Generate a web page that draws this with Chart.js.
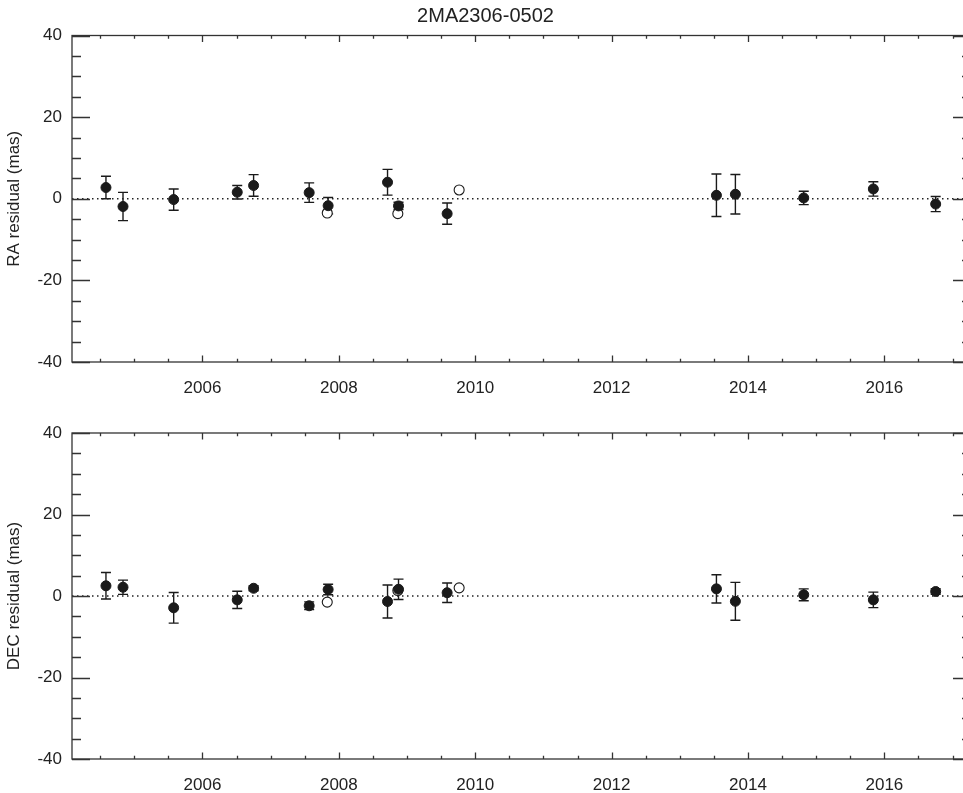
<!DOCTYPE html>
<html><head><meta charset="utf-8">
<script src="https://cdn.jsdelivr.net/npm/chart.js@4"></script>
<style>
html,body{margin:0;padding:0;background:#fff;overflow:hidden;width:963px;height:793px;}
#w1{position:absolute;left:0;top:0;width:1000px;height:410px;}
#w2{position:absolute;left:0;top:410px;width:1000px;height:383px;}
</style></head><body>
<div id="w1"><canvas id="c1"></canvas></div>
<div id="w2"><canvas id="c2"></canvas></div>
<script>
// ---- data ----
const chartTitle = '2MA2306-0502';
const epochs     = [2004.585, 2004.835, 2005.578, 2006.51, 2006.75, 2007.565, 2007.843, 2008.714, 2008.875, 2009.588, 2013.537, 2013.815, 2014.817, 2015.838, 2016.752];
const raValues   = [2.75, -1.9, -0.2, 1.6, 3.25, 1.5, -1.7, 4.05, -1.75, -3.65, 0.85, 1.1, 0.2, 2.4, -1.3];
const raErrors   = [2.75, 3.45, 2.6, 1.65, 2.65, 2.4, 2.0, 3.15, 0.9, 2.6, 5.2, 4.85, 1.65, 1.75, 1.85];
const decValues  = [2.5, 2.15, -2.9, -0.95, 1.9, -2.4, 1.6, -1.35, 1.65, 0.8, 1.75, -1.3, 0.3, -0.95, 1.1];
const decErrors  = [3.25, 1.75, 3.75, 2.1, 0.6, 0.95, 1.3, 4.05, 2.5, 2.4, 3.45, 4.65, 1.45, 1.9, 0.7];
const openEpochs = [2007.83, 2008.865, 2009.764];
const raOpen     = [-3.5, -3.65, 2.15];
const decOpen    = [-1.5, 1.35, 2.0];
const yearTicks  = [2006, 2008, 2010, 2012, 2014, 2016];
const residualTicks = [-40, -20, 0, 20, 40];

// ---- layout / style ----
const XMIN = 2004.087, XMAX = 2017.27;
const FAMILY = '"Liberation Sans", Arial, sans-serif';
const FSIZE = 17;
const TXT = '#222';

const errorBars = {
  id:'errorBars',
  beforeDatasetsDraw(chart){
    const ds = chart.data.datasets[0];
    const {ctx, scales:{x,y}} = chart;
    ctx.save(); ctx.strokeStyle='#1a1a1a'; ctx.lineWidth=1.4; ctx.beginPath();
    ds.data.forEach((p,i)=>{
      const e = ds.errors[i];
      const px = x.getPixelForValue(p.x);
      const y1 = y.getPixelForValue(p.y+e), y2 = y.getPixelForValue(p.y-e);
      ctx.moveTo(px,y1); ctx.lineTo(px,y2);
      ctx.moveTo(px-5,y1); ctx.lineTo(px+5,y1);
      ctx.moveTo(px-5,y2); ctx.lineTo(px+5,y2);
    });
    ctx.stroke(); ctx.restore();
  }
};
const frame = {
  id:'frame',
  afterDraw(chart){
    const {ctx, chartArea:a, scales:{x,y}} = chart;
    ctx.save(); ctx.strokeStyle='#333'; ctx.lineWidth=1.3;
    ctx.strokeRect(a.left,a.top,a.right-a.left,a.bottom-a.top);
    ctx.beginPath();
    for(let v=Math.ceil(XMIN*2)/2; v<=XMAX; v+=0.5){
      const px=Math.round(x.getPixelForValue(v))+0.5;
      const L=(Math.abs(v%2)<1e-6)?6.5:3.3;
      ctx.moveTo(px,a.bottom); ctx.lineTo(px,a.bottom-L);
      ctx.moveTo(px,a.top); ctx.lineTo(px,a.top+L);
    }
    for(let v=-40; v<=40; v+=5){
      const py=Math.round(y.getPixelForValue(v))+0.5;
      const L=(v%20===0)?18:9;
      ctx.moveTo(a.left,py); ctx.lineTo(a.left+L,py);
      ctx.moveTo(a.right,py); ctx.lineTo(a.right-L,py);
    }
    ctx.stroke(); ctx.restore();
  }
};

function makeChart(id, values, errors, openVals, yTitle, showTitle, padTop, xHeight){
  const font = {family:FAMILY, size:FSIZE};
  return new Chart(document.getElementById(id), {
    type:'scatter',
    data:{datasets:[
      {data:epochs.map((x,i)=>({x, y:values[i]})), errors, pointRadius:5, pointBackgroundColor:'#1a1a1a', pointBorderColor:'#1a1a1a', pointBorderWidth:1, order:0},
      {data:openEpochs.map((x,i)=>({x, y:openVals[i]})), pointRadius:5, pointBackgroundColor:'#fff', pointBorderColor:'#1a1a1a', pointBorderWidth:1.1, order:1},
      {data:[{x:XMIN,y:0},{x:XMAX,y:0}], showLine:true, pointRadius:0, borderColor:'#222', borderWidth:1.3, borderDash:[1.5,3.5], order:2}
    ]},
    options:{
      responsive:true, maintainAspectRatio:false, animation:false, events:[],
      layout:{padding:{top:padTop, left:0, right:29, bottom:0}},
      plugins:{
        legend:{display:false}, tooltip:{enabled:false},
        title:{display:showTitle, text:chartTitle, font:{family:FAMILY, size:20, weight:'normal'}, color:TXT, padding:{top:4, bottom:7.5}}
      },
      scales:{
        x:{type:'linear', min:XMIN, max:XMAX,
           grid:{display:false, drawTicks:false}, border:{display:false},
           ticks:{font, color:TXT, padding:16, maxRotation:0, autoSkip:false, callback:v=>String(v)},
           afterBuildTicks:s=>{s.ticks=yearTicks.map(v=>({value:v}));},
           afterFit:s=>{s.height=xHeight;}},
        y:{type:'linear', min:-40, max:40,
           grid:{display:false, drawTicks:false}, border:{display:false},
           ticks:{font, color:TXT, padding:10, callback:v=>String(v)},
           afterBuildTicks:s=>{s.ticks=residualTicks.map(v=>({value:v}));},
           title:{display:true, text:yTitle, font, color:TXT, padding:{top:4, bottom:0}},
           afterFit:s=>{s.width=72;}}
      }
    },
    plugins:[errorBars, frame]
  });
}
makeChart('c1', raValues, raErrors, raOpen, 'RA residual (mas)', true, 0, 48);
makeChart('c2', decValues, decErrors, decOpen, 'DEC residual (mas)', false, 23, 34);
</script>
</body></html>
